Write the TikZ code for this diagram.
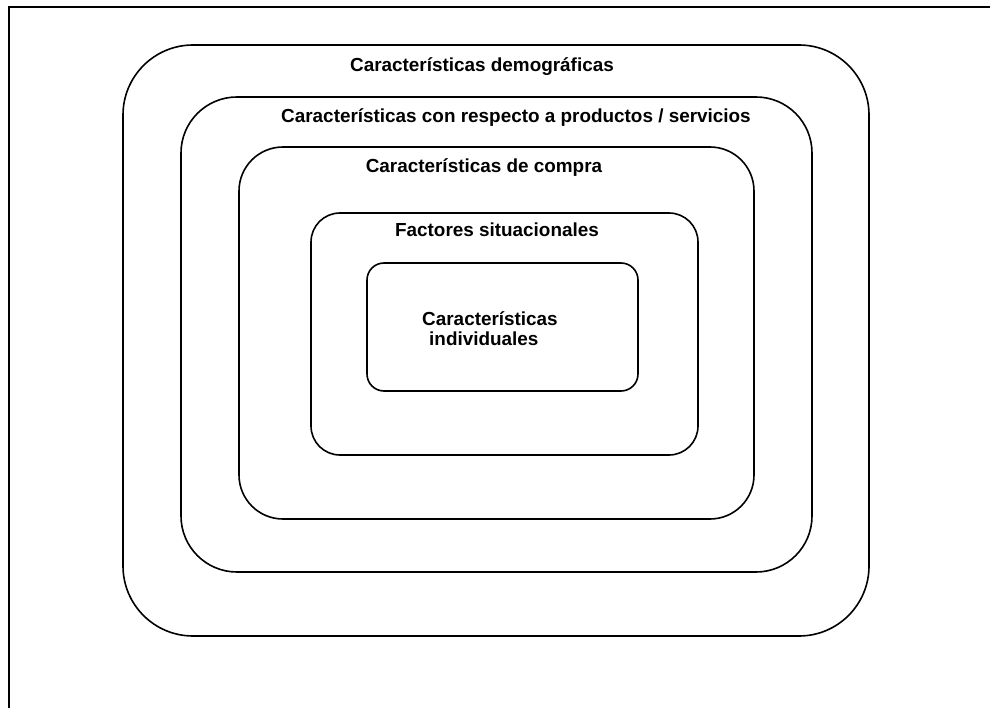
\documentclass[tikz,border=0pt]{standalone}
\usepackage{fontspec}
\setmainfont{Liberation Sans}
\begin{document}
\begin{tikzpicture}[x=1pt,y=-1pt,
  ring/.style={draw=black, line width=1.6pt, fill=none, inner sep=0pt, outer sep=0pt},
  label/.style={font=\fontsize{18.9}{20}\selectfont\bfseries, inner sep=0pt, anchor=base}]
  \useasboundingbox (0,0) rectangle (990,708);
  % open frame: top and left edges only
  \coordinate (ftl) at (9,7);
  \coordinate (ftr) at (990,7);
  \coordinate (fbl) at (9,708);
  \draw[line width=2pt] (ftr) -- (ftl) -- (fbl);
  % nested rounded boxes, outermost first
  \node[ring, rounded corners=70pt, minimum width=746pt, minimum height=591pt] (demo) at (496,340.5) {};
  \node[ring, rounded corners=56pt, minimum width=631pt, minimum height=475pt] (prod) at (496.5,334.5) {};
  \node[ring, rounded corners=44pt, minimum width=515pt, minimum height=372pt] (compra) at (496.5,333) {};
  \node[ring, rounded corners=29pt, minimum width=387pt, minimum height=242pt] (situ) at (504.5,334) {};
  \node[ring, rounded corners=17pt, minimum width=271pt, minimum height=128pt] (indiv) at (502.5,327) {};
  % level titles
  \node[label] (tdemo) at (482,72) {Características demográficas};
  \node[label] (tprod) at (516,123) {Características con respecto a productos / servicios};
  \node[label] (tcompra) at (484,173) {Características de compra};
  \node[label] (tsitu) at (497,237) {Factores situacionales};
  \node[label] (tind1) at (490,326) {Características};
  \node[label, anchor=base west] (tind2) at (429,345) {individuales};
\end{tikzpicture}
\end{document}
